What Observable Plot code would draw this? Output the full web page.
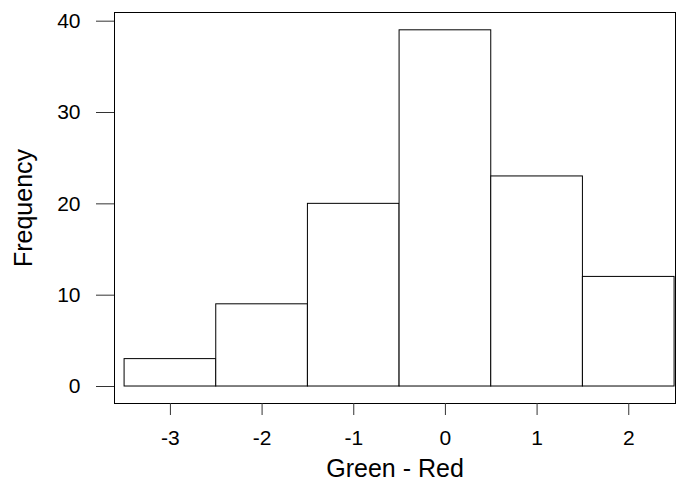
<!DOCTYPE html>
<html>
<head>
<meta charset="utf-8">
<script src="https://cdn.jsdelivr.net/npm/d3@7"></script>
<script src="https://cdn.jsdelivr.net/npm/@observablehq/plot@0.6"></script>
<style>
  html, body { margin: 0; padding: 0; background: #fff; }
</style>
</head>
<body>
<div id="chart"></div>
<script>
// Histogram of Green - Red
const binStarts = [-3.5, -2.5, -1.5, -0.5, 0.5, 1.5];
const binWidth = 1;
const counts = [3, 9, 20, 39, 23, 12];
const xTicks = [-3, -2, -1, 0, 1, 2];
const yTicks = [0, 10, 20, 30, 40];
const xTitle = "Green - Red";
const yTitle = "Frequency";

const bins = binStarts.map((s, i) => ({x1: s, x2: s + binWidth, count: counts[i]}));
const fmt = d => d < 0 ? "-" + Math.abs(d) : String(d);

const chart = Plot.plot({
  width: 676,
  height: 483,
  marginLeft: 114,
  marginRight: 1,
  marginTop: 12,
  marginBottom: 80,
  style: {fontFamily: "'Liberation Sans', Arial, sans-serif", fontSize: "21px", color: "#000", background: "#fff"},
  x: {domain: [-3.61, 2.51], label: null, axis: null},
  y: {domain: [-1.86, 40.95], label: null, axis: null},
  marks: [
    Plot.rect(bins, {x1: "x1", x2: "x2", y1: 0, y2: "count", fill: "white", stroke: "black", strokeWidth: 1}),
    Plot.frame({stroke: "black", strokeWidth: 1}),
    Plot.axisX({ticks: xTicks, tickSize: 12, stroke: "#333", label: null, tickFormat: () => ""}),
    Plot.axisY({ticks: yTicks, tickSize: 18, stroke: "#333", label: null, tickFormat: () => ""}),
    Plot.text(xTicks, {x: d => d, frameAnchor: "bottom", lineAnchor: "top", textAnchor: "middle", dy: 27, text: fmt, fontSize: 21}),
    Plot.text(yTicks, {y: d => d, frameAnchor: "left", lineAnchor: "middle", textAnchor: "end", dx: -34, text: fmt, fontSize: 21}),
    Plot.text([xTitle], {frameAnchor: "bottom", lineAnchor: "middle", dy: 65, text: d => d, fontSize: 25}),
    Plot.text([yTitle], {frameAnchor: "left", lineAnchor: "middle", textAnchor: "middle", dx: -91, rotate: -90, text: d => d, fontSize: 25})
  ]
});
document.getElementById("chart").appendChild(chart);
</script>
</body>
</html>
